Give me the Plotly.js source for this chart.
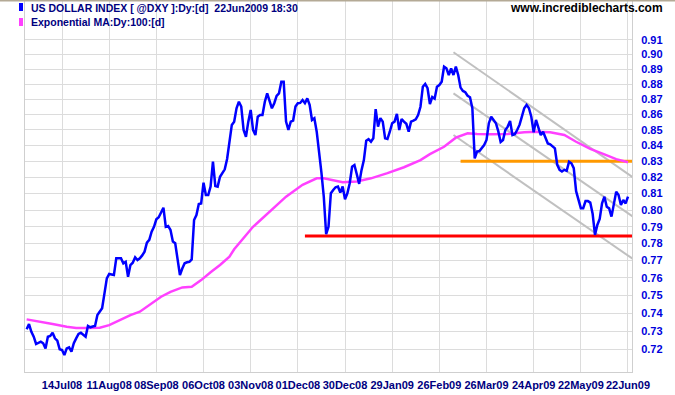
<!DOCTYPE html>
<html><head><meta charset="utf-8">
<script src="https://cdn.plot.ly/plotly-3.0.1.min.js"></script>
<style>html,body{margin:0;padding:0;background:#fff}#chart{width:675px;height:395px}</style>
</head><body><div id="chart"></div>
<script>
// Daily closes, US Dollar Index, one per trading day (day 0 .. 255)
const closeValues = [
0.7310,0.7339,0.7296,0.7269,0.7229,0.7235,0.7242,0.7233,0.7205,0.7269,
0.7273,0.7291,0.7260,0.7247,0.7200,0.7196,0.7169,0.7205,0.7211,0.7187,
0.7233,0.7260,0.7284,0.7291,0.7280,0.7269,0.7328,0.7321,0.7325,0.7328,
0.7389,0.7410,0.7427,0.7511,0.7597,0.7622,0.7620,0.7616,0.7713,0.7713,
0.7713,0.7684,0.7693,0.7606,0.7674,0.7687,0.7719,0.7703,0.7713,0.7730,
0.7752,0.7805,0.7821,0.7870,0.7899,0.7944,0.7956,0.7985,0.8014,0.7899,
0.7904,0.7880,0.7811,0.7801,0.7703,0.7616,0.7654,0.7684,0.7690,0.7693,
0.7707,0.7940,0.7970,0.8036,0.8040,0.8167,0.8091,0.8091,0.8143,0.8298,
0.8147,0.8143,0.8204,0.8229,0.8250,0.8315,0.8435,0.8532,0.8553,0.8640,
0.8683,0.8651,0.8499,0.8456,0.8553,0.8629,0.8499,0.8467,0.8585,0.8596,
0.8596,0.8683,0.8738,0.8694,0.8640,0.8673,0.8721,0.8738,0.8815,0.8815,
0.8553,0.8499,0.8553,0.8560,0.8651,0.8673,0.8675,0.8694,0.8673,0.8705,
0.8662,0.8564,0.8575,0.8488,0.8372,0.8230,0.8081,0.7855,0.7899,0.8102,
0.8122,0.8139,0.8143,0.8107,0.8143,0.8065,0.8102,0.8164,0.8266,0.8277,
0.8219,0.8160,0.8245,0.8308,0.8430,0.8440,0.8424,0.8446,0.8634,0.8521,
0.8576,0.8553,0.8446,0.8442,0.8488,0.8543,0.8553,0.8603,0.8499,0.8570,
0.8553,0.8539,0.8488,0.8553,0.8560,0.8568,0.8596,0.8650,0.8782,0.8800,
0.8772,0.8668,0.8714,0.8703,0.8782,0.8793,0.8815,0.8916,0.8905,0.8860,
0.8905,0.8860,0.8916,0.8860,0.8776,0.8754,0.8745,0.8722,0.8712,0.8640,
0.8319,0.8361,0.8365,0.8386,0.8403,0.8435,0.8543,0.8585,0.8564,0.8543,
0.8490,0.8422,0.8435,0.8499,0.8521,0.8558,0.8467,0.8472,0.8499,0.8532,
0.8585,0.8640,0.8662,0.8640,0.8585,0.8485,0.8564,0.8521,0.8467,0.8488,
0.8456,0.8413,0.8407,0.8392,0.8382,0.8278,0.8247,0.8237,0.8247,0.8241,
0.8298,0.8288,0.8257,0.8115,0.8054,0.8011,0.8011,0.8054,0.8054,0.8045,
0.7978,0.7851,0.7910,0.7946,0.8040,0.8081,0.8020,0.8010,0.7960,0.8030,
0.8112,0.8091,0.8030,0.8061,0.8040,0.8081
];
// Exponential MA (100 day)
const maDays = [0,6,11,17,21,25,31,35,40,44,48,52,57,61,66,70,74,78,82,86,88,96,103,110,117,123,126,130,134,140,146,153,160,167,171,177,182,187,191,197,204,211,216,222,228,233,239,245,250,255];
const maValues = [0.7365,0.7352,0.7339,0.7324,0.7317,0.7317,0.7318,0.7333,0.7365,0.7389,0.7408,0.7445,0.7492,0.7520,0.7545,0.7549,0.7587,0.7632,0.7674,0.7723,0.7766,0.7899,0.7990,0.8081,0.8154,0.8194,0.8194,0.8180,0.8170,0.8174,0.8194,0.8226,0.8263,0.8308,0.8345,0.8392,0.8450,0.8478,0.8473,0.8472,0.8473,0.8485,0.8488,0.8485,0.8467,0.8424,0.8378,0.8344,0.8314,0.8294];

const tickDays = [15,35,55,75,95,115,135,155,175,195,215,235,255];
const tickLabels = ["14Jul08","11Aug08","08Sep08","06Oct08","03Nov08","01Dec08","30Dec08","29Jan09","26Feb09","26Mar09","24Apr09","22May09","22Jun09"];
const yTickValues = [0.72,0.73,0.74,0.75,0.76,0.77,0.78,0.79,0.80,0.81,0.82,0.83,0.84,0.85,0.86,0.87,0.88,0.89,0.90,0.91];

// Drawn support / resistance and trend channel
const supportDays = [118, 257];
const supportLevels = [0.7845, 0.7845];
const resistDays = [184, 257];
const resistLevels = [0.830, 0.830];
const channelDays = [181, 257];
const channelTop = [0.9014, 0.8201];
const channelMid = [0.8738, 0.7961];
const channelLow = [0.8467, 0.7710];

const days = closeValues.map((_, i) => i);
const gray = '#c0c0c0';
const traces = [
  {x: channelDays, y: channelTop, mode:'lines', line:{color:gray, width:2}},
  {x: channelDays, y: channelMid, mode:'lines', line:{color:gray, width:2}},
  {x: channelDays, y: channelLow, mode:'lines', line:{color:gray, width:2}},
  {x: supportDays, y: supportLevels, mode:'lines', line:{color:'#ff0000', width:3}},
  {x: resistDays, y: resistLevels, mode:'lines', line:{color:'#ff9900', width:3}},
  {x: maDays, y: maValues, mode:'lines', line:{color:'#ff40ff', width:2.5}},
  {x: days, y: closeValues, mode:'lines', line:{color:'#0000ff', width:2.5}}
];

const W = 675, H = 395, L = 25, R = 43, T = 1, B = 23;
const pw = W - L - R, ph = H - T - B;
const px = p => (p - L) / pw;
const py = p => (H - B - p) / ph;

const tickFont = {family:'Liberation Sans, Arial, sans-serif', size:11, color:'#000080', weight:'bold'};
const layout = {
  width: W, height: H,
  margin: {l:L, r:R, t:T, b:B, pad:0},
  paper_bgcolor:'#ffffff', plot_bgcolor:'#ffffff',
  showlegend:false,
  xaxis: {
    range:[-0.7, 256.7], tickvals:tickDays, ticktext:tickLabels,
    showgrid:true, gridcolor:'#dcdcdc', gridwidth:1, zeroline:false,
    showline:true, linecolor:'#cfcfcf', linewidth:1,
    ticks:'outside', ticklen:3, tickcolor:'rgba(0,0,0,0)',
    tickfont: tickFont, fixedrange:true
  },
  yaxis: {
    type:'log', side:'right',
    range:[Math.log10(0.70775), Math.log10(0.93702)],
    tickvals:yTickValues, ticktext:yTickValues.map(v => v.toFixed(2)),
    showgrid:true, gridcolor:'#dcdcdc', gridwidth:1, zeroline:false,
    showline:true, mirror:true, linecolor:'#cfcfcf', linewidth:1,
    ticks:'outside', ticklen:6, tickcolor:'rgba(0,0,0,0)',
    tickfont:{family:'Liberation Sans, Arial, sans-serif', size:11, color:'#0000dd', weight:'bold'},
    fixedrange:true
  },
  shapes: [
    {type:'line', xref:'paper', yref:'paper', x0:-L/pw, x1:(W-L)/pw, y0:py(0.5), y1:py(0.5), line:{color:'#b4aa96', width:2}},
    {type:'rect', xref:'paper', yref:'paper', x0:px(19), x1:px(23), y0:py(11), y1:py(3), fillcolor:'#0000ff', line:{width:0}},
    {type:'rect', xref:'paper', yref:'paper', x0:px(19), x1:px(23), y0:py(26), y1:py(18), fillcolor:'#ff40ff', line:{width:0}}
  ],
  annotations: [
    {xref:'paper', yref:'paper', x:px(29), y:py(7.5), xanchor:'left', yanchor:'middle', showarrow:false,
     text:'US DOLLAR INDEX [ @DXY ]:Dy:[d] \u00a022Jun2009 18:30',
     font:{family:'Liberation Sans, Arial, sans-serif', size:10.5, color:'#000080', weight:'bold'}},
    {xref:'paper', yref:'paper', x:px(29), y:py(22.5), xanchor:'left', yanchor:'middle', showarrow:false,
     text:'Exponential MA:Dy:100:[d]',
     font:{family:'Liberation Sans, Arial, sans-serif', size:10.5, color:'#000080', weight:'bold'}},
    {xref:'paper', yref:'paper', x:px(665), y:py(8), xanchor:'right', yanchor:'middle', showarrow:false,
     text:'www.incrediblecharts.com',
     font:{family:'Liberation Sans, Arial, sans-serif', size:12, color:'#000000', weight:'bold'}}
  ]
};
Plotly.newPlot('chart', traces, layout, {staticPlot:true, displayModeBar:false});
</script></body></html>
